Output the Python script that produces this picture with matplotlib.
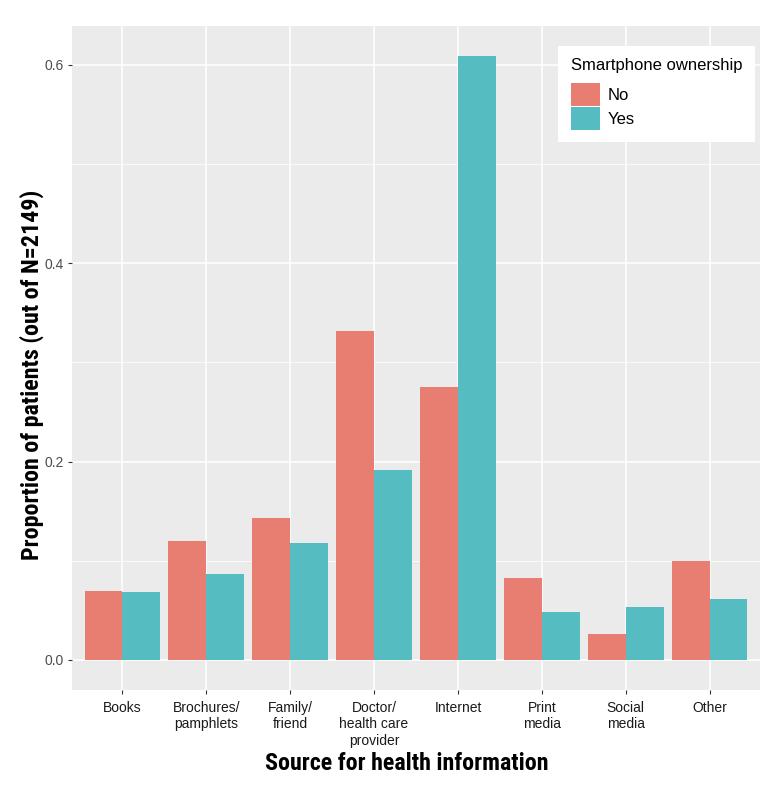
import numpy as np
import matplotlib.pyplot as plt

categories = ['Books', 'Brochures/\npamphlets', 'Family/\nfriend', 'Doctor/\nhealth care\nprovider',
              'Internet', 'Print\nmedia', 'Social\nmedia', 'Other']
no_values = [0.069, 0.120, 0.143, 0.332, 0.275, 0.083, 0.026, 0.100]
yes_values = [0.068, 0.087, 0.118, 0.191, 0.609, 0.048, 0.053, 0.061]
groups = ['No', 'Yes']
colors = ['#E87D72', '#55BCC2']

plt.rcParams['font.family'] = ['Liberation Sans', 'DejaVu Sans']
title_font = ['Roboto Condensed', 'Liberation Sans']

fig = plt.figure(figsize=(7.84, 7.91), dpi=100)
ax = fig.add_axes([0.0918, 0.1277, 0.8776, 0.8396])
ax.set_facecolor('#EBEBEB')

x = np.arange(1, len(categories) + 1)
w = 0.45
ax.bar(x - w / 2, no_values, width=w, color=colors[0], label=groups[0], zorder=3)
ax.bar(x + w / 2, yes_values, width=w, color=colors[1], label=groups[1], zorder=3)

# ggplot-like limits and grid
ymax = max(max(no_values), max(yes_values))
ax.set_ylim(-0.05 * ymax, ymax * 1.05)
ax.set_xlim(0.4, len(categories) + 0.6)
ax.set_yticks([0.0, 0.2, 0.4, 0.6])
ax.set_yticklabels(['0.0', '0.2', '0.4', '0.6'])
ax.set_yticks([0.1, 0.3, 0.5], minor=True)
ax.set_xticks(x)
ax.set_xticklabels(categories)
ax.grid(which='major', color='white', linewidth=1.1, zorder=0)
ax.grid(which='minor', axis='y', color='white', linewidth=0.55, zorder=0)
ax.set_axisbelow(True)
for s in ax.spines.values():
    s.set_visible(False)
ax.tick_params(axis='both', which='major', length=3, width=0.8, color='#333333')
ax.tick_params(axis='y', which='minor', length=0)
ax.tick_params(axis='y', labelsize=10, labelcolor='#4D4D4D', pad=3)
ax.tick_params(axis='x', labelsize=10, labelcolor='#1A1A1A', pad=5)

ax.set_ylabel('Proportion of patients (out of N=2149)', fontsize=17.3, fontweight='bold',
              family=title_font, va='center')
ax.yaxis.set_label_coords(-0.058, 0.474)
ax.set_xlabel('Source for health information', fontsize=17.3, fontweight='bold',
              family=title_font, va='center')
ax.xaxis.set_label_coords(0.487, -0.111)

leg = ax.legend(title='Smartphone ownership', loc='upper right', bbox_to_anchor=(0.9927, 0.970),
                borderaxespad=0, fontsize=12, title_fontsize=12, frameon=True, fancybox=False,
                framealpha=1, handlelength=1.75, handleheight=1.75, handletextpad=0.45,
                labelspacing=0.05, borderpad=0.75, alignment='left')
leg.get_frame().set_edgecolor('white')
leg.get_frame().set_facecolor('white')
leg.get_frame().set_linewidth(0)
leg._legend_box.sep = 7  # extra gap below the legend title

fig.savefig('out.png', dpi=100)
